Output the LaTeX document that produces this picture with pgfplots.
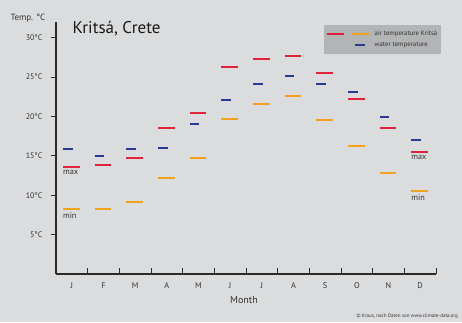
\documentclass[border=0pt]{standalone}
\usepackage{pgfplots}
\pgfplotsset{compat=1.18}
\usepackage{fontspec}
\setmainfont{PT Sans}
\definecolor{bgc}{HTML}{DBDCDE}
\definecolor{legc}{HTML}{B3B4B6}
\definecolor{redc}{HTML}{E2213A}
\definecolor{orc}{HTML}{F3A21F}
\definecolor{bluec}{HTML}{2B3990}
\definecolor{axc}{HTML}{2A2A2A}
\definecolor{txc}{HTML}{333333}
\begin{document}
\begin{tikzpicture}
\fill[bgc] (0,0) rectangle (462pt,322pt);
\begin{axis}[
  at={(56pt,48pt)}, anchor=south west,
  scale only axis, width=380pt, height=252pt,
  xmin=-0.5, xmax=11.5, ymin=0, ymax=32,
  axis x line=bottom, axis y line=left,
  axis line style={-, line width=1.8pt, color=axc},
  xtick={0,...,11},
  xticklabels={J,F,M,A,M,J,J,A,S,O,N,D},
  major x tick style={draw=none},
  minor xtick={0.5,1.5,...,11.5},
  minor x tick style={line width=0.8pt, color=axc},
  minor tick length=6pt,
  ytick={5,10,...,30},
  yticklabel={\pgfmathprintnumber{\tick}°C},
  y tick style={line width=0.8pt, color=axc},
  ytick align=outside,
  major tick length=5pt,
  xtick align=inside,
  /pgf/number format/assume math mode=true,
  yticklabel style={font=\fontsize{8}{9}\selectfont, text=txc, xshift=-5pt},
  xticklabel style={font=\fontsize{8.3}{9}\selectfont, text=txc, yshift=-5pt},
  xlabel={Month},
  every axis x label/.style={at={(axis description cs:0.5,0)}, anchor=center, yshift=-26pt, xshift=-2pt, font=\fontsize{10}{11}\selectfont, text=txc},
  ylabel={Temp. °C},
  every axis y label/.style={at={(axis description cs:0,1)}, anchor=center, xshift=-28pt, yshift=3.5pt, font=\fontsize{9}{10}\selectfont, text=txc},
  title={Kritsá, Crete},
  every axis title/.style={at={(axis description cs:0,1)}, anchor=base west, xshift=13pt, yshift=-11pt, font=\fontsize{17}{19}\selectfont, text=black!90},
  clip=false,
  unbounded coords=jump,
  legend style={at={(axis description cs:1,1)}, anchor=north east, xshift=5pt, yshift=-3pt,
    fill=legc, draw=none, font=\fontsize{6.7}{7}\selectfont, text=txc,
    inner xsep=1.5pt, inner ysep=3.5pt, row sep=1.5pt, cells={anchor=west}},
]
% maximum air temperature
\addplot[redc, line width=2pt,
  legend image code/.code={
    \draw[draw=none] (0pt,0pt) -- (46pt,0pt);
    \draw[redc, line width=1.8pt] (0pt,0pt) -- (17pt,0pt);
    \draw[orc, line width=1.8pt] (25pt,0pt) -- (42pt,0pt);}]
coordinates {
(-0.28,13.6)(0.25,13.6)(0,nan)
(0.72,13.8)(1.25,13.8)(1,nan)
(1.72,14.7)(2.25,14.7)(2,nan)
(2.72,18.6)(3.25,18.6)(3,nan)
(3.72,20.4)(4.25,20.4)(4,nan)
(4.72,26.3)(5.25,26.3)(5,nan)
(5.72,27.3)(6.25,27.3)(6,nan)
(6.72,27.7)(7.25,27.7)(7,nan)
(7.72,25.5)(8.25,25.5)(8,nan)
(8.72,22.2)(9.25,22.2)(9,nan)
(9.72,18.6)(10.25,18.6)(10,nan)
(10.72,15.5)(11.25,15.5)
};
\addlegendentry{air temperature Kritsá}
% minimum air temperature
\addplot[orc, line width=2pt, forget plot]
coordinates {
(-0.28,8.3)(0.25,8.3)(0,nan)
(0.72,8.3)(1.25,8.3)(1,nan)
(1.72,9.2)(2.25,9.2)(2,nan)
(2.72,12.2)(3.25,12.2)(3,nan)
(3.72,14.7)(4.25,14.7)(4,nan)
(4.72,19.7)(5.25,19.7)(5,nan)
(5.72,21.6)(6.25,21.6)(6,nan)
(6.72,22.6)(7.25,22.6)(7,nan)
(7.72,19.5)(8.25,19.5)(8,nan)
(8.72,16.3)(9.25,16.3)(9,nan)
(9.72,12.8)(10.25,12.8)(10,nan)
(10.72,10.5)(11.25,10.5)
};
% water temperature
\addplot[bluec, line width=2pt,
  legend image code/.code={
    \draw[draw=none] (0pt,0pt) -- (46pt,0pt);
    \draw[bluec, line width=1.8pt] (28.5pt,0pt) -- (38pt,0pt);}]
coordinates {
(-0.28,15.9)(0.03,15.9)(0,nan)
(0.72,15.0)(1.03,15.0)(1,nan)
(1.72,15.9)(2.03,15.9)(2,nan)
(2.72,16.0)(3.03,16.0)(3,nan)
(3.72,19.0)(4.03,19.0)(4,nan)
(4.72,22.1)(5.03,22.1)(5,nan)
(5.72,24.1)(6.03,24.1)(6,nan)
(6.72,25.1)(7.03,25.1)(7,nan)
(7.72,24.1)(8.03,24.1)(8,nan)
(8.72,23.1)(9.03,23.1)(9,nan)
(9.72,20.0)(10.03,20.0)(10,nan)
(10.72,17.0)(11.03,17.0)
};
\addlegendentry{water temperature}
\node[anchor=north west, inner sep=0pt, font=\fontsize{8.3}{9}\selectfont, text=txc, xshift=-9pt, yshift=-3.5pt] at (axis cs:0,13.6) {max};
\node[anchor=north west, inner sep=0pt, font=\fontsize{8.3}{9}\selectfont, text=txc, xshift=-9pt, yshift=-3.5pt] at (axis cs:0,8.3) {min};
\node[anchor=north west, inner sep=0pt, font=\fontsize{8.3}{9}\selectfont, text=txc, xshift=-9pt, yshift=-3.5pt] at (axis cs:11,15.5) {max};
\node[anchor=north west, inner sep=0pt, font=\fontsize{8.3}{9}\selectfont, text=txc, xshift=-9pt, yshift=-3.5pt] at (axis cs:11,10.5) {min};
\end{axis}
\node[anchor=east, inner sep=0pt, font=\fontsize{5}{6}\selectfont, text=txc] at (458pt,5.3pt) {© Kraus, nach Daten von www.climate-data.org};
\pgfresetboundingbox
\useasboundingbox (0,0) rectangle (462pt,322pt);
\end{tikzpicture}
\end{document}
